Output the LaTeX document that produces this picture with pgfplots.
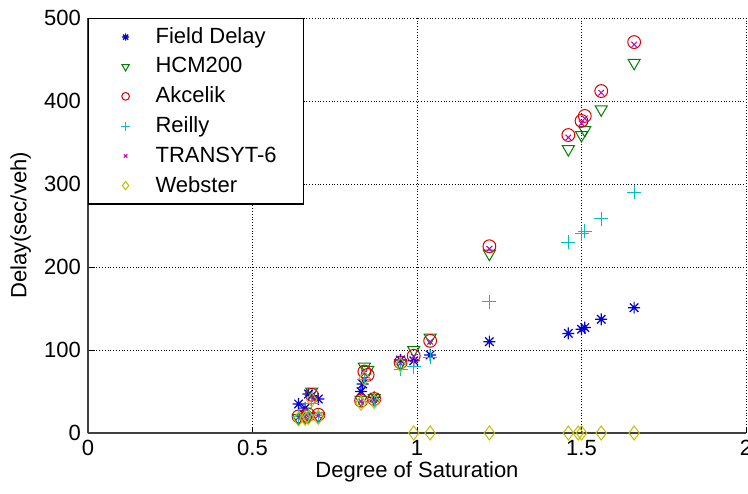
\documentclass[border=0pt]{standalone}
\usepackage{fontspec}
\setmainfont{Liberation Sans}
\usepackage{pgfplots}
\pgfplotsset{compat=1.18}

\definecolor{mblue}{rgb}{0,0,0.85}
\definecolor{mgreen}{rgb}{0,0.5,0}
\definecolor{mred}{rgb}{0.85,0,0}
\definecolor{mcyan}{rgb}{0,0.75,0.75}
\definecolor{mmag}{rgb}{0.75,0,0.75}
\definecolor{myel}{rgb}{0.75,0.75,0}

% MATLAB-like eight-armed asterisk
\pgfdeclareplotmark{mstar}{%
  \pgfpathmoveto{\pgfqpoint{-\pgfplotmarksize}{0pt}}\pgfpathlineto{\pgfqpoint{\pgfplotmarksize}{0pt}}%
  \pgfpathmoveto{\pgfqpoint{0pt}{-\pgfplotmarksize}}\pgfpathlineto{\pgfqpoint{0pt}{\pgfplotmarksize}}%
  \pgfpathmoveto{\pgfqpoint{-.707\pgfplotmarksize}{-.707\pgfplotmarksize}}\pgfpathlineto{\pgfqpoint{.707\pgfplotmarksize}{.707\pgfplotmarksize}}%
  \pgfpathmoveto{\pgfqpoint{-.707\pgfplotmarksize}{.707\pgfplotmarksize}}\pgfpathlineto{\pgfqpoint{.707\pgfplotmarksize}{-.707\pgfplotmarksize}}%
  \pgfusepathqstroke}

\begin{document}
\begin{tikzpicture}
\begin{axis}[
    scale only axis,
    width=329pt, height=207.5pt,
    xmin=0, xmax=2, ymin=0, ymax=500,
    xtick={0,0.5,1,1.5,2},
    ytick={0,100,200,300,400,500},
    axis lines=left,
    axis line style={-, line width=0.6pt, black!75},
    tick style={black, line width=0.5pt},
    tick align=inside,
    major tick length=3pt,
    grid=major,
    grid style={densely dotted, black, line width=0.5pt},
    xlabel={Degree of Saturation},
    ylabel={Delay(sec/veh)},
    every axis x label/.style={at={(axis description cs:0.5,0)}, anchor=north, yshift=-10.5pt},
    every axis y label/.style={at={(axis description cs:0,0.5)}, anchor=south, rotate=90, yshift=25pt},
    label style={font=\fontsize{11}{13}\selectfont},
    tick label style={font=\fontsize{11}{13}\selectfont},
    /pgf/number format/assume math mode=true,
    legend style={at={(0,1)}, anchor=north west, draw=black, line width=0.6pt,
        font=\fontsize{11}{15.5}\selectfont, inner xsep=11.5pt, inner ysep=2.5pt,
        row sep=1.5pt, legend cell align=left,
        /tikz/every odd column/.append style={column sep=6pt}},
    legend image code/.code={\path[draw=none, fill=none] (0pt,-2pt) rectangle (14pt,2pt);
        \draw[#1, every mark/.append style={scale=0.6}] plot coordinates {(7pt,0pt)};},
    clip=false,
]
% Field Delay
\addplot[only marks, mark=mstar, color=mblue, mark size=3pt, line width=0.6pt] coordinates {
(0.64,35)(0.66,30)(0.67,47)(0.68,45)(0.70,41)(0.83,50)(0.835,59)(0.87,43)
(0.95,88)(0.99,87)(1.04,94)(1.22,110)(1.46,120)(1.50,125)(1.51,127)(1.56,137)(1.66,151)};
% HCM200
\addplot[only marks, mark=triangle, mark options={rotate=180}, color=mgreen, mark size=3.5pt, line width=0.5pt] coordinates {
(0.64,18)(0.66,19)(0.67,20)(0.68,50)(0.70,20)(0.83,40)(0.84,80)(0.85,76)(0.87,42)
(0.95,84)(0.99,100)(1.04,115)(1.22,216)(1.46,342)(1.50,359)(1.51,365)(1.56,390)(1.66,446)};
% Akcelik
\addplot[only marks, mark=o, color=mred, mark size=3.2pt, line width=0.5pt] coordinates {
(0.64,20)(0.66,21)(0.67,22)(0.68,46)(0.70,22)(0.83,39)(0.84,74)(0.85,70)(0.87,41)
(0.95,85)(0.99,93)(1.04,111)(1.22,225)(1.46,359)(1.50,376)(1.51,382)(1.56,412)(1.66,471)};
% Reilly
\addplot[only marks, mark=+, color=mcyan, mark size=3.5pt, line width=0.5pt] coordinates {
(0.64,20)(0.66,21)(0.67,22)(0.68,36)(0.70,21)(0.83,38)(0.84,65)(0.87,40)
(0.95,77)(0.99,80)(1.04,91)(1.22,158)(1.46,230)(1.50,240)(1.51,243)(1.56,258)(1.66,290)};
% TRANSYT-6
\addplot[only marks, mark=x, color=mmag, mark size=2pt, line width=0.5pt] coordinates {
(0.64,19)(0.66,20)(0.67,21)(0.68,44)(0.70,21)(0.83,38)(0.84,72)(0.85,68)(0.87,40)
(0.95,84)(0.99,92)(1.04,110)(1.22,222)(1.46,356)(1.50,373)(1.51,379)(1.56,410)(1.66,468)};
% Webster
\addplot[only marks, mark=diamond, color=myel, mark size=3.5pt, line width=0.5pt] coordinates {
(0.64,17)(0.66,18)(0.67,19)(0.68,40)(0.70,19)(0.83,36)(0.84,66)(0.87,38)
(0.95,82)(0.99,0)(1.04,0)(1.22,0)(1.46,0)(1.49,0)(1.50,0)(1.56,0)(1.66,0)};
\legend{Field Delay, HCM200, Akcelik, Reilly, TRANSYT-6, Webster}
\end{axis}
\pgfresetboundingbox
\path (-44pt,-30pt) rectangle (330pt,216.5pt);
\end{tikzpicture}
\end{document}
